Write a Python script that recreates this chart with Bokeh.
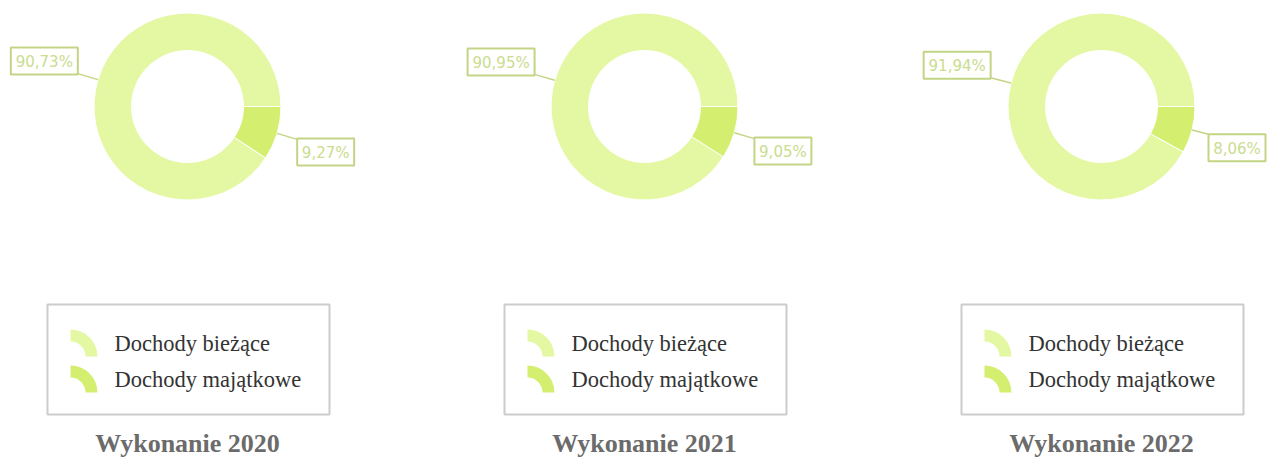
import math
from bokeh.plotting import figure
from bokeh.models import Range1d
from bokeh.core.properties import value
from bokeh.embed import file_html
from bokeh.resources import INLINE

# ---- data ----
years = ["2020", "2021", "2022"]
categories = ["Dochody bieżące", "Dochody majątkowe"]
biezace = [90.73, 90.95, 91.94]
majatkowe = [9.27, 9.05, 8.06]
titles = ["Wykonanie " + y for y in years]

# ---- style ----
COLORS = ["#e4f8a4", "#d4ee70"]
LABEL_LINE = "#c3d585"
LABEL_TEXT = "#cadc8e"
W, H = 1267, 458

def Y(py):
    return H - py

p = figure(width=W, height=H, output_backend="svg", toolbar_location=None,
           x_range=Range1d(0, W), y_range=Range1d(0, H),
           min_border=0, outline_line_color=None)
p.axis.visible = False
p.grid.visible = False
p.background_fill_color = "white"
p.border_fill_color = "white"

centers_x = [187, 644, 1101]
cy = 106
R_OUT, R_IN = 93.5, 56

def fmt(v):
    return ("%.2f" % v).replace(".", ",") + "%"

for i, cx in enumerate(centers_x):
    vals = [biezace[i], majatkowe[i]]
    total = sum(vals)
    start = 0.0
    for k, v in enumerate(vals):
        a0 = start
        a1 = start + 2 * math.pi * v / total
        p.annular_wedge(x=[cx], y=[Y(cy)], inner_radius=R_IN, outer_radius=R_OUT,
                        inner_radius_units="screen", outer_radius_units="screen",
                        start_angle=a0, end_angle=a1, direction="anticlock",
                        fill_color=COLORS[k], line_color="white", line_width=1)
        # label
        mid = (a0 + a1) / 2
        rx = cx + R_OUT * math.cos(mid)
        ry = Y(cy) + R_OUT * math.sin(mid)
        ex = rx + 21 * math.cos(mid)
        ey = ry + 21 * math.sin(mid)
        p.segment(x0=[rx], y0=[ry], x1=[ex], y1=[ey], line_color=LABEL_LINE, line_width=1.5)
        txt = fmt(v)
        bw = 10 * len(txt) + 7
        bh = 27
        if math.cos(mid) < 0:
            bx = ex - bw / 2
        else:
            bx = min(ex + bw / 2, W - 2 - bw / 2)
        if math.sin(mid) > 0:
            by = ey - 1 + bh / 2
        else:
            by = ey + 1 - bh / 2
        p.rect(x=[bx], y=[by], width=bw, height=bh, fill_color="white",
               line_color=LABEL_LINE, line_width=2)
        p.text(x=[bx], y=[by - 1], text=[txt], text_align="center", text_baseline="middle",
               text_font=value("DejaVu Sans"), text_font_size="15px", text_color=LABEL_TEXT)
        start = a1

    # legend box
    lx0, lx1 = cx - 140, cx + 142
    ly0, ly1 = 304, 414
    p.rect(x=[(lx0 + lx1) / 2], y=[Y((ly0 + ly1) / 2)], width=lx1 - lx0, height=ly1 - ly0,
           fill_color="white", line_color="#cccccc", line_width=2)
    for k, cat in enumerate(categories):
        icy = 356 + 36 * k
        p.annular_wedge(x=[cx - 117], y=[Y(icy)], inner_radius=15, outer_radius=27,
                        inner_radius_units="screen", outer_radius_units="screen",
                        start_angle=0, end_angle=math.pi / 2,
                        fill_color=COLORS[k], line_color=None)
        p.text(x=[cx - 73], y=[Y(343 + 36 * k)], text=[cat], text_align="left",
               text_baseline="middle", text_font=value("Liberation Serif"),
               text_font_size="22.5px", text_color="#333333")

    # title
    p.text(x=[cx], y=[Y(443)], text=[titles[i]], text_align="center",
           text_baseline="middle", text_font=value("Liberation Serif"),
           text_font_size="26px", text_font_style="bold", text_color="#6b6b6b")

open("out.html", "w").write(file_html(p, INLINE))
